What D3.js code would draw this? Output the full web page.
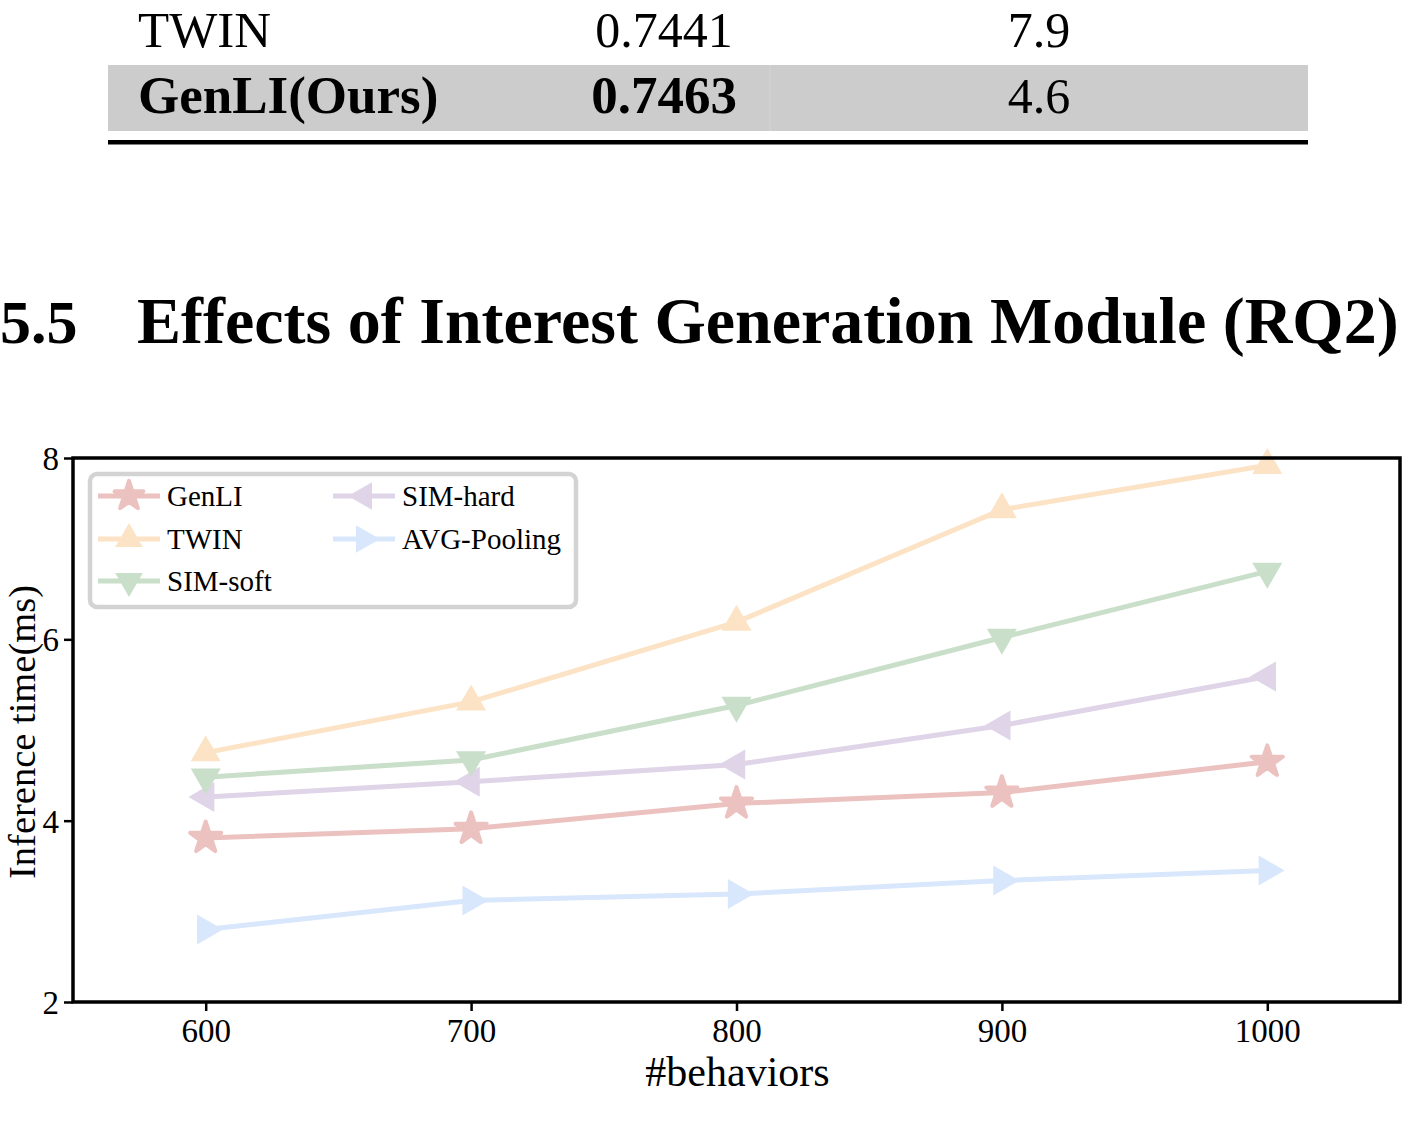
<!DOCTYPE html>
<html>
<head>
<meta charset="utf-8">
<script src="https://cdn.jsdelivr.net/npm/d3@7"></script>
<style>
  body { margin: 0; background: #fff; }
  svg { display: block; }
  text { font-family: "Liberation Serif", "DejaVu Serif", serif; }
</style>
</head>
<body>
<svg id="page" width="1410" height="1128"></svg>
<script>
// table fragment
const tableRows = ['TWIN', 'GenLI(Ours)']
const tableAuc = ['0.7441', '0.7463']
const tableTime = ['7.9', '4.6']

// chart data
const behaviors = [600, 700, 800, 900, 1000]
const genli = [3.81, 3.91, 4.19, 4.31, 4.65]
const twin = [4.75, 5.31, 6.19, 7.43, 7.92]
const simSoft = [4.48, 4.67, 5.27, 6.02, 6.75]
const simHard = [4.26, 4.43, 4.62, 5.05, 5.59]
const avgPooling = [2.80, 3.12, 3.19, 3.34, 3.45]
const seriesNames = ['GenLI', 'TWIN', 'SIM-soft', 'SIM-hard', 'AVG-Pooling']
const yTicks = [2, 4, 6, 8]

const svg = d3.select('#page')

// ---- table bits ----
svg.append('rect')
    .attr('x', 108).attr('y', 65).attr('width', 1200).attr('height', 66)
    .attr('fill', '#cccccc')
svg.append('line')
    .attr('x1', 770).attr('x2', 770).attr('y1', 65).attr('y2', 131)
    .attr('stroke', '#d6d6d6').attr('stroke-width', 1)
svg.append('rect')
    .attr('x', 108).attr('y', 140).attr('width', 1200).attr('height', 4.5)
    .attr('fill', '#000')

const rowBase = [47, 113]
tableRows.forEach((name, i) => {
    const bold = i === 1
    svg.append('text').text(name)
        .attr('x', 138).attr('y', rowBase[i])
        .attr('font-size', bold ? 53 : 51).attr('font-weight', bold ? 'bold' : 'normal')
    svg.append('text').text(tableAuc[i])
        .attr('x', 664).attr('y', rowBase[i]).attr('text-anchor', 'middle')
        .attr('font-size', bold ? 53 : 50).attr('font-weight', bold ? 'bold' : 'normal')
    svg.append('text').text(tableTime[i])
        .attr('x', 1039).attr('y', rowBase[i]).attr('text-anchor', 'middle')
        .attr('font-size', 50)
})

// ---- section heading ----
svg.append('text').text('5.5')
    .attr('x', 0).attr('y', 343)
    .attr('font-size', 62).attr('font-weight', 'bold')
svg.append('text').text('Effects of Interest Generation Module (RQ2)')
    .attr('x', 137).attr('y', 343)
    .attr('font-size', 66).attr('font-weight', 'bold')

// ---- chart ----
const plotLeft = 73, plotRight = 1400, plotTop = 458, plotBottom = 1002

const x = d3.scaleLinear().domain([550, 1050]).range([plotLeft, plotRight])
const y = d3.scaleLinear().domain([2, 8]).range([plotBottom, plotTop])

const series = [
    { name: seriesNames[0], values: genli, color: '#ebc2c0', symbol: d3.symbolStar, rot: 0, size: 300 },
    { name: seriesNames[1], values: twin, color: '#fde3c6', symbol: d3.symbolTriangle, rot: 0, size: 390 },
    { name: seriesNames[2], values: simSoft, color: '#c9dfca', symbol: d3.symbolTriangle, rot: 180, size: 390 },
    { name: seriesNames[3], values: simHard, color: '#e0d4e8', symbol: d3.symbolTriangle, rot: -90, size: 390 },
    { name: seriesNames[4], values: avgPooling, color: '#d8e7fb', symbol: d3.symbolTriangle, rot: 90, size: 390 }
]

const chart = svg.append('g')

const line = d3.line()
    .x((d, i) => x(behaviors[i]))
    .y(d => y(d))

const drawOrder = [4, 3, 2, 1, 0]
drawOrder.forEach(k => {
    const s = series[k]
    const g = chart.append('g')
    g.append('path')
        .datum(s.values)
        .attr('d', line)
        .attr('fill', 'none')
        .attr('stroke', s.color)
        .attr('stroke-width', 5)
    g.selectAll('path.mk')
        .data(s.values)
        .enter()
        .append('path')
        .attr('class', 'mk')
        .attr('d', d3.symbol().type(s.symbol).size(s.size))
        .attr('transform', (d, i) => `translate(${x(behaviors[i])},${y(d)}) rotate(${s.rot})`)
        .attr('fill', s.color)
        .attr('stroke', s.color)
        .attr('stroke-width', s.symbol === d3.symbolStar ? 4 : 0)
        .attr('stroke-linejoin', 'round')
})

// axes
const xAxis = chart.append('g')
    .attr('transform', `translate(0,${plotBottom})`)
    .call(d3.axisBottom(x).tickValues(behaviors).tickFormat(d3.format('d'))
        .tickSize(9).tickPadding(8).tickSizeOuter(0))
const yAxis = chart.append('g')
    .attr('transform', `translate(${plotLeft},0)`)
    .call(d3.axisLeft(y).tickValues(yTicks).tickFormat(d3.format('d'))
        .tickSize(9).tickPadding(5).tickSizeOuter(0))

;[xAxis, yAxis].forEach(a => {
    a.select('.domain').remove()
    a.selectAll('line').attr('stroke', '#000').attr('stroke-width', 2.5)
    a.selectAll('text')
        .attr('font-family', '"Liberation Serif", serif')
        .attr('font-size', 33).attr('fill', '#000')
})
yAxis.selectAll('text').attr('dy', '0.35em')

// frame
chart.append('rect')
    .attr('x', plotLeft).attr('y', plotTop)
    .attr('width', plotRight - plotLeft).attr('height', plotBottom - plotTop)
    .attr('fill', 'none').attr('stroke', '#000').attr('stroke-width', 3.5)

// axis labels
svg.append('text').text('#behaviors')
    .attr('x', (x(550) + x(1050)) / 2 + 1).attr('y', 1086)
    .attr('text-anchor', 'middle').attr('font-size', 42)
svg.append('text').text('Inference time(ms)')
    .attr('transform', `translate(34.5,${(plotTop + plotBottom) / 2 + 2}) rotate(-90)`)
    .attr('text-anchor', 'middle').attr('font-size', 38.5)

// legend
const legend = chart.append('g')
legend.append('rect')
    .attr('x', 90).attr('y', 474).attr('width', 486).attr('height', 133)
    .attr('rx', 7)
    .attr('fill', '#fff').attr('stroke', '#d3d3d3').attr('stroke-width', 4.5)

const legendPos = [
    [98, 496], [98, 539], [98, 581],
    [333, 496], [333, 539]
]
series.forEach((s, i) => {
    const [lx, ly] = legendPos[i]
    const item = legend.append('g').attr('transform', `translate(${lx},${ly})`)
    item.append('line')
        .attr('x1', 0).attr('x2', 62).attr('y1', 0).attr('y2', 0)
        .attr('stroke', s.color).attr('stroke-width', 5)
    item.append('path')
        .attr('d', d3.symbol().type(s.symbol).size(s.size * 0.85))
        .attr('transform', `translate(31,0) rotate(${s.rot})`)
        .attr('fill', s.color).attr('stroke', s.color)
        .attr('stroke-width', s.symbol === d3.symbolStar ? 4 : 0)
        .attr('stroke-linejoin', 'round')
    item.append('text').text(s.name)
        .attr('x', 69).attr('y', 0).attr('dy', '0.35em')
        .attr('font-size', 29)
})
</script>
</body>
</html>
